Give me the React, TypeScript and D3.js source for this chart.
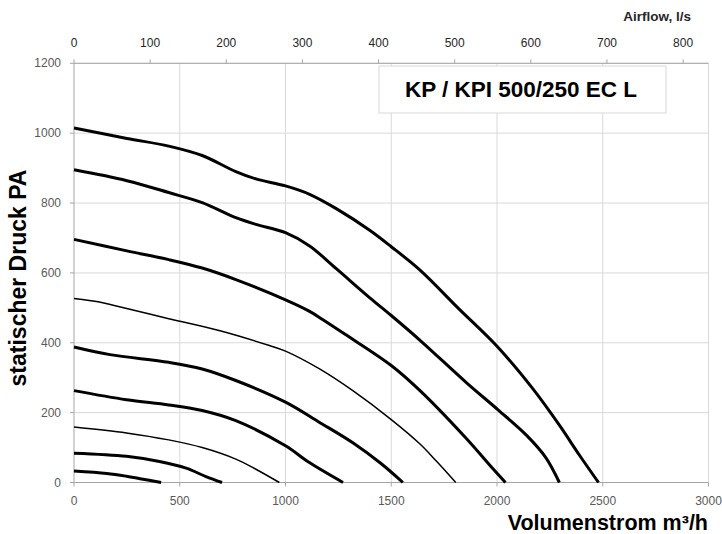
import React from "react";
import * as d3 from "d3";

// ---- data ----
const flowTicks = [0, 500, 1000, 1500, 2000, 2500, 3000];
const pressureTicks = [0, 200, 400, 600, 800, 1000, 1200];
const airflowTicks = [0, 100, 200, 300, 400, 500, 600, 700, 800];

const title = "KP / KPI 500/250 EC L";
const yTitle = "statischer Druck PA";
const xTitle = "Volumenstrom m³/h";
const topTitle = "Airflow, l/s";

// [m³/h, Pa]
const curve1 = [[0, 1015], [250, 985], [448, 963], [606, 936], [765, 890], [860, 869], [1000, 849], [1114, 825], [1240, 784], [1398, 722], [1500, 675], [1636, 608], [1820, 497], [2000, 390], [2170, 268], [2295, 164], [2390, 78], [2480, 0]];
const curve2 = [[0, 895], [250, 864], [448, 830], [606, 801], [765, 758], [860, 739], [1000, 715], [1114, 677], [1240, 612], [1400, 528], [1500, 478], [1640, 405], [1855, 286], [2005, 208], [2140, 135], [2230, 72], [2295, 0]];
const curve3 = [[0, 696], [250, 663], [448, 638], [606, 614], [765, 581], [1000, 523], [1114, 490], [1177, 466], [1280, 425], [1500, 335], [1636, 263], [1855, 126], [1980, 40], [2040, 0]];
const curve4 = [[0, 527], [120, 517], [200, 505], [448, 469], [686, 435], [924, 392], [1000, 376], [1161, 325], [1320, 262], [1500, 180], [1636, 110], [1712, 62], [1805, 0]];
const curve5 = [[0, 388], [170, 366], [448, 344], [606, 325], [765, 292], [1000, 230], [1161, 172], [1320, 113], [1450, 55], [1555, 0]];
const curve6 = [[0, 263], [248, 237], [448, 222], [606, 206], [765, 177], [1000, 105], [1113, 57], [1272, 0]];
const curve7 = [[0, 159], [248, 142], [448, 122], [606, 100], [765, 67], [860, 38], [971, 0]];
const curve8 = [[0, 84], [248, 75], [404, 60], [530, 41], [624, 17], [700, 0]];
const curve9 = [[0, 33], [155, 26], [248, 18], [312, 11], [412, 0]];

const curves = [curve1, curve2, curve3, curve4, curve5, curve6, curve7, curve8, curve9];
const thinCurves = [3, 6]; // indexes drawn with thin line

export default function App() {
  const W = 722, H = 534;
  const left = 74, right = 708.5, top = 63.3, bottom = 482.5;
  const x = d3.scaleLinear().domain([0, 3000]).range([left, right]);
  const xTop = d3.scaleLinear().domain([0, 3000 / 3.6]).range([left, right]);
  const y = d3.scaleLinear().domain([0, 1200]).range([bottom, top]);
  const line = d3
    .line<number[]>()
    .x((d) => x(d[0]))
    .y((d) => y(d[1]))
    .curve(d3.curveCatmullRom.alpha(0.5));

  const font = "'Liberation Sans', Arial, sans-serif";
  const gridColor = "#d9d9d9";
  const axisColor = "#a6a6a6";
  const labelColor = "#595959";

  return (
    <svg
      width={W}
      height={H}
      style={{ position: "absolute", left: 0, top: 0, background: "#fff" }}
      fontFamily={font}
    >
      <rect x={0} y={0} width={W} height={H} fill="#fff" />
      {/* grid */}
      {flowTicks.slice(1).map((t) => (
        <line key={"gx" + t} x1={x(t)} x2={x(t)} y1={top} y2={bottom} stroke={gridColor} strokeWidth={1} />
      ))}
      {pressureTicks.slice(1).map((t) => (
        <line key={"gy" + t} x1={left} x2={right} y1={y(t)} y2={y(t)} stroke={gridColor} strokeWidth={1} />
      ))}
      {/* title box */}
      <rect x={379} y={66} width={287} height={47} fill="#fff" stroke={gridColor} strokeWidth={1} />
      <text x={521} y={97} textAnchor="middle" fontSize={22.5} fontWeight="bold" fill="#000">
        {title}
      </text>

      {/* axes */}
      <line x1={left} x2={left} y1={top} y2={bottom} stroke={axisColor} strokeWidth={1} />
      <line x1={left} x2={right} y1={bottom} y2={bottom} stroke={axisColor} strokeWidth={1} />
      <line x1={left} x2={right} y1={top} y2={top} stroke={axisColor} strokeWidth={1} />

      {/* left ticks */}
      {pressureTicks.map((t) => (
        <g key={"yt" + t}>
          <line x1={left - 4} x2={left} y1={y(t)} y2={y(t)} stroke={axisColor} />
          <text x={61} y={y(t) + 4} textAnchor="end" fontSize={12} fill={labelColor}>
            {t}
          </text>
        </g>
      ))}
      {/* bottom ticks */}
      {flowTicks.map((t) => (
        <g key={"xt" + t}>
          <line x1={x(t)} x2={x(t)} y1={bottom} y2={bottom + 4} stroke={axisColor} />
          <text x={x(t)} y={505} textAnchor="middle" fontSize={12} fill={labelColor}>
            {t}
          </text>
        </g>
      ))}
      {/* top ticks */}
      {airflowTicks.map((t) => (
        <g key={"tt" + t}>
          <line x1={xTop(t)} x2={xTop(t)} y1={top - 4} y2={top} stroke={axisColor} />
          <text x={xTop(t)} y={47} textAnchor="middle" fontSize={12} fill="#262626">
            {t}
          </text>
        </g>
      ))}
      <text x={691} y={21} textAnchor="end" fontSize={13.5} fontWeight="bold" fill="#262626">
        {topTitle}
      </text>

      {/* curves */}
      {curves.map((c, i) => (
        <path
          key={"c" + i}
          d={line(c) || ""}
          fill="none"
          stroke="#000"
          strokeWidth={thinCurves.includes(i) ? 1.5 : 3}
          strokeLinejoin="round"
          strokeLinecap="butt"
        />
      ))}

      {/* axis titles */}
      <text
        transform={`translate(26,278) rotate(-90)`}
        textAnchor="middle"
        fontSize={23}
        fontWeight="bold"
        fill="#000"
      >
        {yTitle}
      </text>
      <text x={708} y={530} textAnchor="end" fontSize={21.5} fontWeight="bold" fill="#000">
        {xTitle}
      </text>
    </svg>
  );
}
